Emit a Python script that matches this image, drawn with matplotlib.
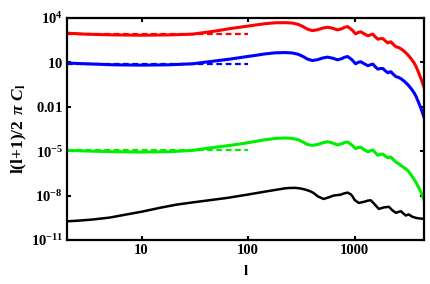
import numpy as np
import matplotlib
matplotlib.use("Agg")
import matplotlib.pyplot as plt
from matplotlib.ticker import FixedLocator, FixedFormatter, NullLocator

plt.rcParams['font.family'] = ['Liberation Serif', 'DejaVu Serif']
plt.rcParams['font.weight'] = 'bold'
plt.rcParams['mathtext.fontset'] = 'custom'
plt.rcParams['mathtext.rm'] = 'Liberation Serif:bold'
plt.rcParams['mathtext.it'] = 'Liberation Serif:italic:bold'
plt.rcParams['mathtext.bf'] = 'Liberation Serif:bold'

# multipoles shared by the three coloured spectra
ell = [2, 3, 5.5, 10, 18, 30, 50, 68, 94, 120, 145, 180, 223, 260, 296, 330,
       360, 400, 450, 500, 556, 620, 690, 760, 800, 860, 940, 1020, 1080, 1140,
       1230, 1330, 1400, 1480, 1560, 1650, 1740, 1840, 1940, 2050, 2120, 2190,
       2310, 2440, 2580, 2720, 2940, 3160, 3380, 3600, 3760, 3930, 4060, 4200,
       4340, 4480]

# log10 of l(l+1)C_l/2pi
red_log = [2.97, 2.90, 2.85, 2.83, 2.85, 2.90, 3.12, 3.28, 3.42, 3.53, 3.61,
           3.67, 3.68, 3.65, 3.56, 3.40, 3.24, 3.14, 3.20, 3.31, 3.37, 3.30,
           3.19, 3.27, 3.36, 3.41, 3.20, 2.92, 3.02, 3.06, 2.92, 2.79, 2.85,
           2.90, 2.72, 2.56, 2.60, 2.60, 2.44, 2.31, 2.37, 2.38, 2.20, 2.05,
           2.00, 1.91, 1.72, 1.50, 1.25, 0.97, 0.72, 0.40, 0.14, -0.13, -0.42,
           -0.72]
blue_log = [0.95, 0.90, 0.83, 0.81, 0.83, 0.90, 1.10, 1.22, 1.37, 1.48, 1.57,
            1.64, 1.66, 1.63, 1.54, 1.38, 1.22, 1.12, 1.18, 1.29, 1.35, 1.28,
            1.17, 1.25, 1.34, 1.39, 1.18, 0.90, 1.00, 1.04, 0.90, 0.77, 0.83,
            0.88, 0.70, 0.54, 0.58, 0.58, 0.42, 0.29, 0.35, 0.36, 0.18, 0.03,
            -0.02, -0.11, -0.30, -0.52, -0.77, -1.05, -1.30, -1.62, -1.88,
            -2.15, -2.44, -2.74]
green_log = [-4.95, -4.99, -5.04, -5.06, -5.04, -4.95, -4.73, -4.61, -4.46,
             -4.33, -4.23, -4.14, -4.11, -4.14, -4.23, -4.40, -4.55, -4.61,
             -4.55, -4.44, -4.36, -4.45, -4.58, -4.50, -4.42, -4.38, -4.58,
             -4.83, -4.75, -4.74, -4.90, -5.05, -4.97, -4.92, -5.10, -5.28,
             -5.21, -5.20, -5.34, -5.44, -5.40, -5.41, -5.58, -5.74, -5.84,
             -5.98, -6.14, -6.32, -6.60, -6.90, -7.12, -7.38, -7.58, -7.80,
             -8.05, -8.34]

ell_black = [2, 2.6, 3.45, 5, 7.2, 10.2, 14.8, 21.4, 30.3, 43.9, 63.4, 98, 145,
             223, 240, 277, 310, 345, 380, 410, 450, 511, 570, 634, 738, 790,
             859, 920, 957, 1000, 1091, 1170, 1242, 1330, 1416, 1520, 1683,
             1880, 2094, 2260, 2438, 2580, 2718, 2870, 3027, 3120, 3228, 3450,
             3758, 4100, 4480]
black_log = [-9.74, -9.69, -9.62, -9.49, -9.28, -9.08, -8.83, -8.61, -8.46,
             -8.31, -8.16, -7.94, -7.73, -7.51, -7.49, -7.48, -7.52, -7.60,
             -7.70, -7.82, -8.05, -8.23, -8.12, -8.00, -7.94, -7.86, -7.80,
             -7.92, -8.07, -8.30, -8.50, -8.45, -8.41, -8.34, -8.32, -8.55,
             -8.90, -8.80, -8.76, -9.00, -9.17, -9.10, -9.06, -9.22, -9.35,
             -9.30, -9.28, -9.42, -9.51, -9.55, -9.57]

# large-scale (flat) approximations, l = 2..100
dash_ell = [2, 100]
dash_red = 2.90
dash_blue = 0.89
dash_green = -4.93

ytick_vals = [1e4, 10, 0.01, 1e-5, 1e-8, 1e-11]
ytick_labels = [r'$10^{4}$', r'$10$', r'$0.01$', r'$10^{-5}$', r'$10^{-8}$',
                r'$10^{-11}$']
xtick_vals = [10, 100, 1000]
xtick_labels = ['10', '100', '1000']

fig = plt.figure(figsize=(4.31, 2.84), dpi=100)
ax = fig.add_axes([0.1555, 0.155, 0.829, 0.782])

ax.plot(ell, 10 ** np.array(red_log), color='#ff0000', lw=2.2)
ax.plot(ell, 10 ** np.array(blue_log), color='#0000ff', lw=2.2)
ax.plot(ell, 10 ** np.array(green_log), color='#00ee00', lw=2.2)
ax.plot(ell_black, 10 ** np.array(black_log), color='black', lw=1.8)

for lvl, c in [(dash_red, '#ff0000'), (dash_blue, '#0000ff'), (dash_green, '#00ee00')]:
    ax.plot(dash_ell, [10 ** lvl] * 2, color=c, lw=1.6, ls=(0, (2.6, 1.6)))

ax.set_xscale('log')
ax.set_yscale('log')
ax.set_xlim(2, 4500)
ax.set_ylim(1e-11, 1e4)

ax.xaxis.set_major_locator(FixedLocator(xtick_vals))
ax.xaxis.set_major_formatter(FixedFormatter(xtick_labels))
ax.xaxis.set_minor_locator(NullLocator())
ax.yaxis.set_major_locator(FixedLocator(ytick_vals))
ax.yaxis.set_major_formatter(FixedFormatter(ytick_labels))
ax.yaxis.set_minor_locator(NullLocator())

ax.tick_params(direction='in', length=3, width=1.5, labelsize=10.5,
               top=True, right=True, pad=3)
for sp in ax.spines.values():
    sp.set_linewidth(1.6)

ax.set_xlabel('l', fontsize=11, fontweight='bold', labelpad=6)
ax.set_ylabel(r'l(l+1)/2 $\,\pi\ C_{\mathrm{l}}$', fontsize=12.5,
              fontweight='bold', labelpad=1)

fig.savefig('out.png', dpi=100)
